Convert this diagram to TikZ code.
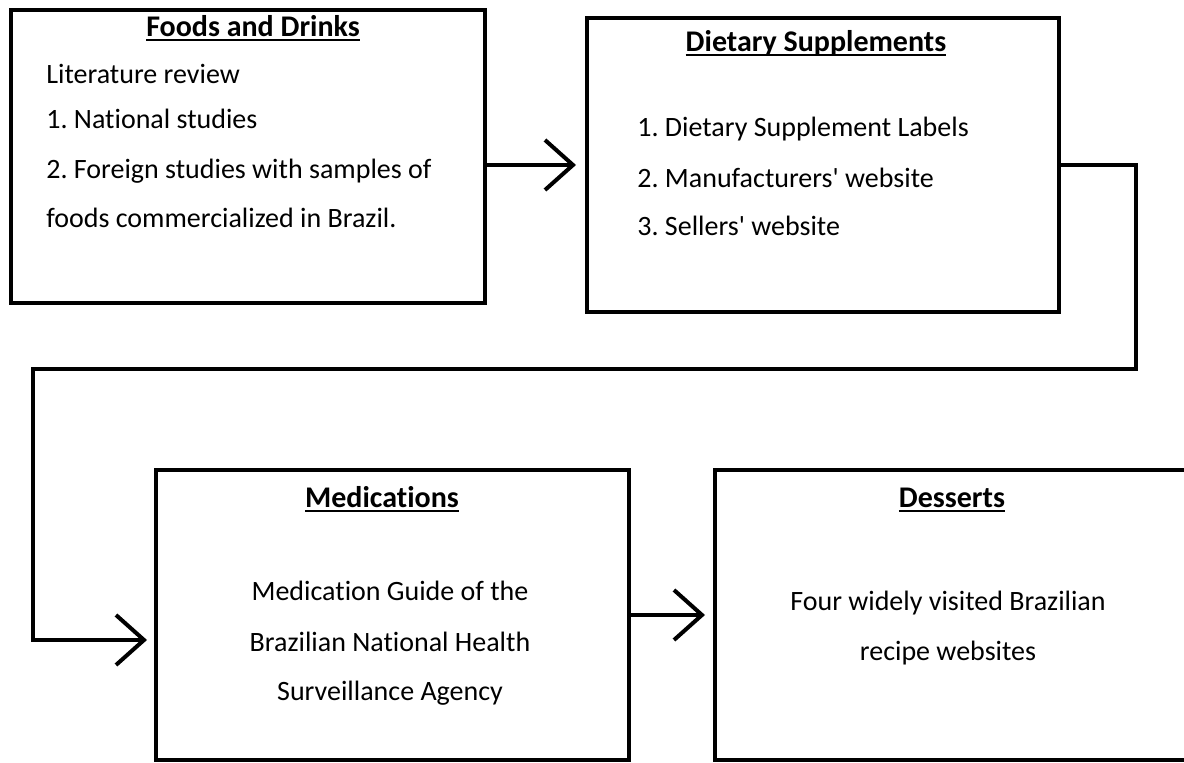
\documentclass[tikz,border=0pt]{standalone}
\usepackage{fontspec}
\defaultfontfeatures[\rmfamily]{}
\setmainfont{Carlito}[Ligatures=NoCommon]
\usetikzlibrary{arrows.meta}

% underline that keeps a fixed depth below the baseline
\newcommand{\headul}[1]{\setbox0\hbox{#1}\rlap{\rule[-1.8pt]{\wd0}{1pt}}\box0}

\begin{document}
\frenchspacing
\begin{tikzpicture}[x=0.5pt,y=-0.5pt,
    box/.style={draw,line width=2pt,inner sep=0pt},
    head/.style={anchor=base,inner sep=0pt,font=\fontsize{15}{17}\selectfont\bfseries},
    item/.style={anchor=base west,inner sep=0pt,font=\fontsize{14}{16}\selectfont},
    itemc/.style={anchor=base,inner sep=0pt,font=\fontsize{14}{16}\selectfont},
    flow/.style={line width=2pt,-{Straight Barb[length=14pt,width=25pt,line width=2pt]}}]
  \path[use as bounding box,clip] (0,0) rectangle (1184,763);

  % boxes
  \node[box,minimum width=237pt,minimum height=146.5pt] (foods) at (248,156.5) {};
  \node[box,minimum width=236pt,minimum height=147pt] (suppl) at (823,165) {};
  \node[box,minimum width=236.5pt,minimum height=145pt] (meds) at (392.5,615) {};
  \node[box,minimum width=240pt,minimum height=145pt] (dess) at (955,615) {};

  % foods and drinks
  \node[head] (foodsT) at (253,37) {\headul{Foods and Drinks}};
  \node[item] (foods1) at (46,84) {Literature review};
  \node[item] (foods2) at (46,129) {1. National studies};
  \node[item] (foods3) at (46,179) {2. Foreign studies with samples of};
  \node[item] (foods4) at (46,228) {foods commercialized in Brazil.};

  % dietary supplements
  \node[head] (supplT) at (816,52) {\headul{Dietary Supplements}};
  \node[item] (suppl1) at (637,137) {1. Dietary Supplement Labels};
  \node[item] (suppl2) at (637,188) {2. Manufacturers' website};
  \node[item] (suppl3) at (637,236) {3. Sellers' website};

  % medications
  \node[head] (medsT) at (382,508) {\headul{Medications}};
  \node[itemc] (meds1) at (390,601) {Medication Guide of the};
  \node[itemc] (meds2) at (390,652) {Brazilian National Health};
  \node[itemc] (meds3) at (390,701) {Surveillance Agency};

  % desserts
  \node[head] (dessT) at (952,508) {\headul{Desserts}};
  \node[itemc] (dess1) at (948,611) {Four widely visited Brazilian};
  \node[itemc] (dess2) at (948,661) {recipe websites};

  % connectors
  \coordinate (loopR) at (1136,369);
  \coordinate (loopL) at (33,640);
  \draw[flow,shorten >=4.5pt] (foods.east |- suppl.west) -- (suppl.west);
  \draw[flow,line width=1.8pt,shorten >=3.5pt] (suppl.east) -| (loopR) -| (loopL) -- (loopL -| meds.west);
  \draw[flow,shorten >=4pt] (meds.east) -- (dess.west);
\end{tikzpicture}
\end{document}
